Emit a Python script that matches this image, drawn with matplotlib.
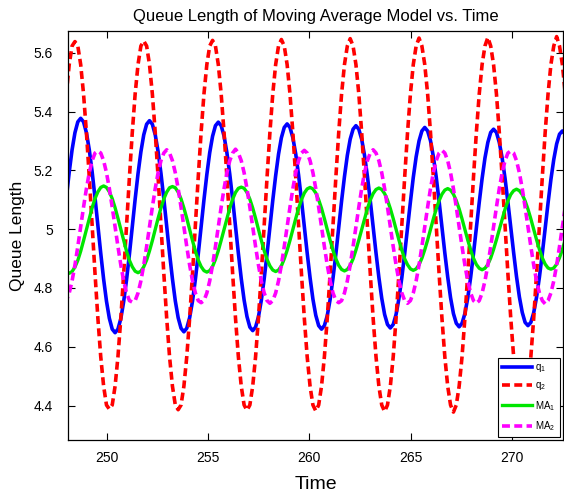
import matplotlib
matplotlib.use("Agg")
import matplotlib.pyplot as plt

plt.rcParams['font.family'] = ['Liberation Sans', 'DejaVu Sans']
plt.rcParams['mathtext.fontset'] = 'custom'
plt.rcParams['mathtext.rm'] = 'Liberation Sans'
plt.rcParams['mathtext.it'] = 'Liberation Sans'

# sample times, 24 readings per oscillation (period ~3.39)
time = [
    247.877, 248.018, 248.160, 248.301, 248.442, 248.584, 248.725, 248.866, 249.008, 249.149, 249.290, 249.432,
    249.573, 249.714, 249.856, 249.997, 250.138, 250.280, 250.421, 250.562, 250.704, 250.845, 250.986, 251.128,
    251.269, 251.410, 251.552, 251.693, 251.834, 251.976, 252.117, 252.258, 252.400, 252.541, 252.682, 252.824,
    252.965, 253.106, 253.248, 253.389, 253.530, 253.672, 253.813, 253.954, 254.096, 254.237, 254.378, 254.520,
    254.661, 254.802, 254.944, 255.085, 255.226, 255.368, 255.509, 255.650, 255.792, 255.933, 256.074, 256.216,
    256.357, 256.498, 256.640, 256.781, 256.922, 257.064, 257.205, 257.346, 257.488, 257.629, 257.770, 257.912,
    258.053, 258.194, 258.336, 258.477, 258.618, 258.760, 258.901, 259.042, 259.184, 259.325, 259.466, 259.608,
    259.749, 259.890, 260.032, 260.173, 260.314, 260.456, 260.597, 260.738, 260.880, 261.021, 261.162, 261.304,
    261.445, 261.586, 261.728, 261.869, 262.010, 262.152, 262.293, 262.435, 262.576, 262.717, 262.859, 263.000,
    263.141, 263.283, 263.424, 263.565, 263.707, 263.848, 263.989, 264.131, 264.272, 264.413, 264.555, 264.696,
    264.837, 264.979, 265.120, 265.261, 265.403, 265.544, 265.685, 265.827, 265.968, 266.109, 266.251, 266.392,
    266.533, 266.675, 266.816, 266.957, 267.099, 267.240, 267.381, 267.523, 267.664, 267.805, 267.947, 268.088,
    268.229, 268.371, 268.512, 268.653, 268.795, 268.936, 269.077, 269.219, 269.360, 269.501, 269.643, 269.784,
    269.925, 270.067, 270.208, 270.349, 270.491, 270.632, 270.773, 270.915, 271.056, 271.197, 271.339, 271.480,
    271.621, 271.763, 271.904, 272.045, 272.187, 272.328, 272.469, 272.611, 272.752,
]

q1 = [
    5.011, 5.106, 5.194, 5.270, 5.328, 5.365, 5.377, 5.365, 5.328, 5.270, 5.195, 5.107,
    5.012, 4.918, 4.830, 4.755, 4.697, 4.660, 4.648, 4.660, 4.696, 4.754, 4.828, 4.915,
    5.008, 5.102, 5.189, 5.263, 5.321, 5.357, 5.369, 5.357, 5.321, 5.264, 5.190, 5.103,
    5.010, 4.917, 4.831, 4.756, 4.699, 4.663, 4.651, 4.663, 4.699, 4.755, 4.829, 4.915,
    5.008, 5.100, 5.186, 5.260, 5.316, 5.352, 5.364, 5.352, 5.317, 5.260, 5.187, 5.101,
    5.010, 4.918, 4.832, 4.759, 4.703, 4.667, 4.655, 4.667, 4.702, 4.758, 4.831, 4.916,
    5.007, 5.098, 5.182, 5.255, 5.311, 5.346, 5.358, 5.346, 5.311, 5.256, 5.184, 5.099,
    5.009, 4.919, 4.835, 4.762, 4.707, 4.672, 4.660, 4.672, 4.706, 4.761, 4.833, 4.916,
    5.006, 5.096, 5.179, 5.251, 5.306, 5.340, 5.352, 5.340, 5.306, 5.251, 5.180, 5.097,
    5.008, 4.919, 4.836, 4.765, 4.710, 4.676, 4.664, 4.676, 4.710, 4.764, 4.835, 4.917,
    5.005, 5.093, 5.176, 5.246, 5.300, 5.334, 5.346, 5.334, 5.301, 5.247, 5.177, 5.095,
    5.007, 4.919, 4.838, 4.767, 4.713, 4.680, 4.668, 4.680, 4.713, 4.766, 4.836, 4.917,
    5.004, 5.091, 5.172, 5.242, 5.295, 5.329, 5.340, 5.329, 5.295, 5.242, 5.173, 5.092,
    5.006, 4.920, 4.839, 4.770, 4.717, 4.683, 4.672, 4.683, 4.716, 4.769, 4.838, 4.917,
    5.003, 5.089, 5.169, 5.237, 5.290, 5.323, 5.334, 5.323, 5.290,
]

q2 = [
    5.329, 5.460, 5.560, 5.623, 5.638, 5.623, 5.560, 5.460, 5.329, 5.177, 5.013, 4.849,
    4.697, 4.566, 4.466, 4.402, 4.388, 4.402, 4.466, 4.566, 4.697, 4.849, 5.013, 5.177,
    5.329, 5.460, 5.560, 5.623, 5.640, 5.623, 5.560, 5.460, 5.329, 5.177, 5.013, 4.849,
    4.697, 4.566, 4.466, 4.402, 4.386, 4.402, 4.466, 4.566, 4.697, 4.849, 5.013, 5.177,
    5.329, 5.460, 5.560, 5.623, 5.642, 5.623, 5.560, 5.460, 5.329, 5.177, 5.013, 4.849,
    4.697, 4.566, 4.466, 4.402, 4.384, 4.402, 4.466, 4.566, 4.697, 4.849, 5.013, 5.177,
    5.329, 5.460, 5.560, 5.623, 5.645, 5.623, 5.560, 5.460, 5.329, 5.177, 5.013, 4.849,
    4.697, 4.566, 4.466, 4.402, 4.382, 4.402, 4.466, 4.566, 4.697, 4.849, 5.013, 5.177,
    5.329, 5.460, 5.560, 5.623, 5.648, 5.623, 5.560, 5.460, 5.329, 5.177, 5.013, 4.849,
    4.697, 4.566, 4.466, 4.402, 4.380, 4.402, 4.466, 4.566, 4.697, 4.849, 5.013, 5.177,
    5.329, 5.460, 5.560, 5.623, 5.650, 5.623, 5.560, 5.460, 5.329, 5.177, 5.013, 4.849,
    4.697, 4.566, 4.466, 4.402, 4.378, 4.402, 4.466, 4.566, 4.697, 4.849, 5.013, 5.177,
    5.329, 5.460, 5.560, 5.623, 5.652, 5.623, 5.560, 5.460, 5.329, 5.177, 5.013, 4.849,
    4.697, 4.566, 4.466, 4.402, 4.377, 4.402, 4.466, 4.566, 4.697, 4.849, 5.013, 5.177,
    5.329, 5.460, 5.560, 5.623, 5.655, 5.623, 5.560, 5.460, 5.329,
]

ma1 = [
    4.871, 4.856, 4.850, 4.856, 4.871, 4.894, 4.925, 4.961, 4.999, 5.037, 5.073, 5.104,
    5.127, 5.142, 5.147, 5.142, 5.127, 5.104, 5.073, 5.037, 4.999, 4.961, 4.925, 4.894,
    4.872, 4.857, 4.852, 4.857, 4.872, 4.895, 4.926, 4.961, 4.999, 5.037, 5.072, 5.103,
    5.126, 5.141, 5.145, 5.141, 5.126, 5.103, 5.072, 5.037, 4.999, 4.961, 4.926, 4.895,
    4.873, 4.859, 4.854, 4.859, 4.873, 4.897, 4.927, 4.962, 4.999, 5.037, 5.072, 5.102,
    5.125, 5.139, 5.143, 5.139, 5.125, 5.102, 5.072, 5.037, 4.999, 4.962, 4.927, 4.897,
    4.875, 4.861, 4.856, 4.861, 4.875, 4.899, 4.928, 4.962, 4.999, 5.036, 5.071, 5.100,
    5.123, 5.137, 5.142, 5.137, 5.123, 5.100, 5.071, 5.036, 4.999, 4.962, 4.928, 4.899,
    4.877, 4.863, 4.858, 4.863, 4.877, 4.899, 4.929, 4.963, 4.999, 5.036, 5.070, 5.099,
    5.121, 5.135, 5.140, 5.135, 5.121, 5.099, 5.070, 5.036, 4.999, 4.963, 4.929, 4.899,
    4.879, 4.865, 4.860, 4.865, 4.879, 4.901, 4.930, 4.963, 4.999, 5.035, 5.069, 5.097,
    5.119, 5.133, 5.138, 5.133, 5.119, 5.097, 5.069, 5.035, 4.999, 4.963, 4.930, 4.901,
    4.880, 4.867, 4.862, 4.867, 4.880, 4.902, 4.931, 4.964, 4.999, 5.035, 5.068, 5.096,
    5.118, 5.131, 5.136, 5.131, 5.118, 5.096, 5.068, 5.035, 4.999, 4.964, 4.931, 4.902,
    4.881, 4.868, 4.864, 4.868, 4.881, 4.903, 4.931, 4.964, 4.999,
]

ma2 = [
    4.750, 4.757, 4.783, 4.824, 4.878, 4.941, 5.008, 5.075, 5.138, 5.192, 5.233, 5.259,
    5.266, 5.259, 5.233, 5.192, 5.138, 5.075, 5.008, 4.941, 4.878, 4.824, 4.783, 4.757,
    4.752, 4.757, 4.783, 4.824, 4.878, 4.941, 5.008, 5.075, 5.138, 5.192, 5.233, 5.259,
    5.270, 5.259, 5.233, 5.192, 5.138, 5.075, 5.008, 4.941, 4.878, 4.824, 4.783, 4.757,
    4.750, 4.757, 4.783, 4.824, 4.878, 4.941, 5.008, 5.075, 5.138, 5.192, 5.233, 5.259,
    5.272, 5.259, 5.233, 5.192, 5.138, 5.075, 5.008, 4.941, 4.878, 4.824, 4.783, 4.757,
    4.748, 4.757, 4.783, 4.824, 4.878, 4.941, 5.008, 5.075, 5.138, 5.192, 5.233, 5.259,
    5.268, 5.259, 5.233, 5.192, 5.138, 5.075, 5.008, 4.941, 4.878, 4.824, 4.783, 4.757,
    4.750, 4.757, 4.783, 4.824, 4.878, 4.941, 5.008, 5.075, 5.138, 5.192, 5.233, 5.259,
    5.270, 5.259, 5.233, 5.192, 5.138, 5.075, 5.008, 4.941, 4.878, 4.824, 4.783, 4.757,
    4.748, 4.757, 4.783, 4.824, 4.878, 4.941, 5.008, 5.075, 5.138, 5.192, 5.233, 5.259,
    5.268, 5.259, 5.233, 5.192, 5.138, 5.075, 5.008, 4.941, 4.878, 4.824, 4.783, 4.757,
    4.748, 4.757, 4.783, 4.824, 4.878, 4.941, 5.008, 5.075, 5.138, 5.192, 5.233, 5.259,
    5.266, 5.259, 5.233, 5.192, 5.138, 5.075, 5.008, 4.941, 4.878, 4.824, 4.783, 4.757,
    4.746, 4.757, 4.783, 4.824, 4.878, 4.941, 5.008, 5.075, 5.138,
]

x_ticks = [250, 255, 260, 265, 270]
y_ticks = [4.4, 4.6, 4.8, 5.0, 5.2, 5.4, 5.6]
y_tick_labels = ['4.4', '4.6', '4.8', '5', '5.2', '5.4', '5.6']

fig = plt.figure(figsize=(5.64, 4.98), dpi=100)
ax = fig.add_axes([68 / 564, 58 / 498, 495 / 564, 409 / 498])

dash = (0, (2.2, 1.2))
ax.plot(time, q1, color='#0000ff', lw=2.6, label='q$_1$')
ax.plot(time, q2, color='#ff0000', lw=2.6, ls=dash, label='q$_2$')
ax.plot(time, ma1, color='#00e600', lw=2.4, label='MA$_1$')
ax.plot(time, ma2, color='#ff00ff', lw=2.6, ls=dash, label='MA$_2$')

ax.set_xlim(248.1, 272.5)
ax.set_ylim(4.283, 5.674)
ax.set_xticks(x_ticks)
ax.set_xticklabels([str(t) for t in x_ticks])
ax.set_yticks(y_ticks)
ax.set_yticklabels(y_tick_labels)
ax.tick_params(direction='in', top=True, right=True, length=5, width=0.8, labelsize=10)
ax.tick_params(axis='x', pad=8)
ax.tick_params(axis='y', pad=11)
for s in ax.spines.values():
    s.set_linewidth(0.9)

ax.set_title('Queue Length of Moving Average Model vs. Time', fontsize=12, pad=7)
ax.set_xlabel('Time', fontsize=14, labelpad=8)
ax.set_ylabel('Queue Length', fontsize=12.5, labelpad=6)

leg = ax.legend(loc='lower right', fontsize=7, frameon=True, fancybox=False,
                edgecolor='black', framealpha=1, handlelength=3.0, handletextpad=0.4,
                labelspacing=0.65, borderpad=0.45, borderaxespad=0.3)
leg.get_frame().set_linewidth(0.8)

fig.savefig('out.png', dpi=100)
